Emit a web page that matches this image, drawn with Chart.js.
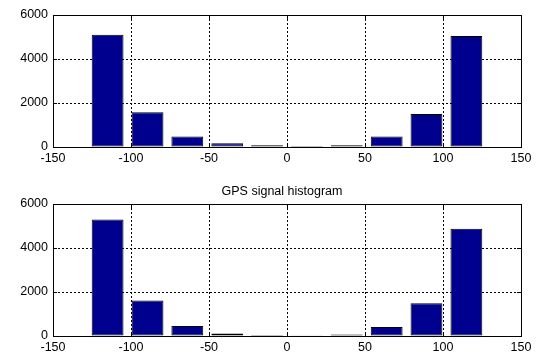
<!DOCTYPE html>
<html lang="en">
<head>
  <meta charset="UTF-8">
  <title>GPS signal histogram</title>
  <style>
    html, body { margin: 0; padding: 0; background: #fff; }
    #page { position: relative; width: 541px; height: 354px; overflow: hidden; }
    .plot { position: absolute; left: 0; width: 541px; }
  </style>
</head>
<body>
  <div id="page">
    <div class="plot" style="top:0; height:177px;"><canvas id="topChart"></canvas></div>
    <div class="plot" style="top:177px; height:177px;"><canvas id="bottomChart"></canvas></div>
  </div>

<script src="https://cdn.jsdelivr.net/npm/chart.js"></script>
<script>
  // bin centres (10 bins) and counts
  const binCenters = [-115, -89.4, -63.9, -38.3, -12.8, 12.8, 38.3, 63.9, 89.4, 115];
  const topCounts = [5100, 1580, 480, 170, 80, 40, 80, 480, 1500, 5050];
  const bottomCounts = [5300, 1610, 450, 110, 50, 30, 70, 410, 1490, 4880];
  const xTicks = [-150, -100, -50, 0, 50, 100, 150];
  const yTicks = [0, 2000, 4000, 6000];
  const bottomTitle = 'GPS signal histogram';

  const FONT = { family: '"Liberation Sans", Arial, sans-serif', size: 12.5 };

  // MATLAB style axes box with inward tick marks, optional title over the axes
  const boxPlugin = {
    id: 'matlabBox',
    afterDraw(chart, args, opts) {
      const { ctx, chartArea: a } = chart;
      const xs = chart.scales.x, ys = chart.scales.y;
      ctx.save();
      ctx.strokeStyle = '#000';
      ctx.lineWidth = 1;
      ctx.setLineDash([]);
      ctx.strokeRect(Math.round(a.left) + 0.5, Math.round(a.top) + 0.5,
        Math.round(a.right - a.left), Math.round(a.bottom - a.top));
      const len = 4;
      ctx.beginPath();
      xTicks.forEach(v => {
        const px = Math.round(xs.getPixelForValue(v)) + 0.5;
        ctx.moveTo(px, a.bottom); ctx.lineTo(px, a.bottom - len);
        ctx.moveTo(px, a.top); ctx.lineTo(px, a.top + len);
      });
      yTicks.forEach(v => {
        const py = Math.round(ys.getPixelForValue(v)) + 0.5;
        ctx.moveTo(a.left, py); ctx.lineTo(a.left + len, py);
        ctx.moveTo(a.right, py); ctx.lineTo(a.right - len, py);
      });
      ctx.stroke();
      if (opts.text) {
        ctx.fillStyle = '#000';
        ctx.font = `${FONT.size}px ${FONT.family}`;
        ctx.textAlign = 'center';
        ctx.textBaseline = 'alphabetic';
        ctx.fillText(opts.text, (a.left + a.right) / 2 - 5, a.top - opts.gap);
      }
      ctx.restore();
    }
  };

  function makeChart(id, counts, padTop, xHeight, title) {
    return new Chart(document.getElementById(id), {
      type: 'bar',
      data: {
        datasets: [{
          data: binCenters.map((c, i) => ({ x: c, y: counts[i] })),
          backgroundColor: '#00008F',
          borderColor: '#000',
          borderWidth: 1,
          borderSkipped: false,
          barPercentage: 0.8,
          categoryPercentage: 1.0
        }]
      },
      options: {
        responsive: true,
        maintainAspectRatio: false,
        animation: false,
        layout: { padding: { top: padTop, right: 20, left: 0, bottom: 0 } },
        plugins: {
          legend: { display: false },
          tooltip: { enabled: false },
          title: { display: false },
          matlabBox: { text: title, gap: 9 }
        },
        scales: {
          x: {
            type: 'linear',
            min: -150, max: 150,
            offset: false,
            afterBuildTicks: s => { s.ticks = xTicks.map(v => ({ value: v })); },
            afterFit: s => { s.height = xHeight; },
            ticks: { color: '#000', font: FONT, padding: 4, maxRotation: 0, callback: v => String(v) },
            grid: { color: '#000', lineWidth: 1, drawTicks: false, offset: false },
            border: { display: true, color: '#000', dash: [2, 2] }
          },
          y: {
            min: 0, max: 6000,
            afterBuildTicks: s => { s.ticks = yTicks.map(v => ({ value: v })); },
            afterFit: s => { s.width = 53; },
            ticks: { color: '#000', font: FONT, padding: 5, callback: v => String(v) },
            grid: { color: '#000', lineWidth: 1, drawTicks: false },
            border: { display: true, color: '#000', dash: [2, 2] }
          }
        }
      },
      plugins: [boxPlugin]
    });
  }

  makeChart('topChart', topCounts, 15, 30, null);
  makeChart('bottomChart', bottomCounts, 27, 18, bottomTitle);
</script>
</body>
</html>
